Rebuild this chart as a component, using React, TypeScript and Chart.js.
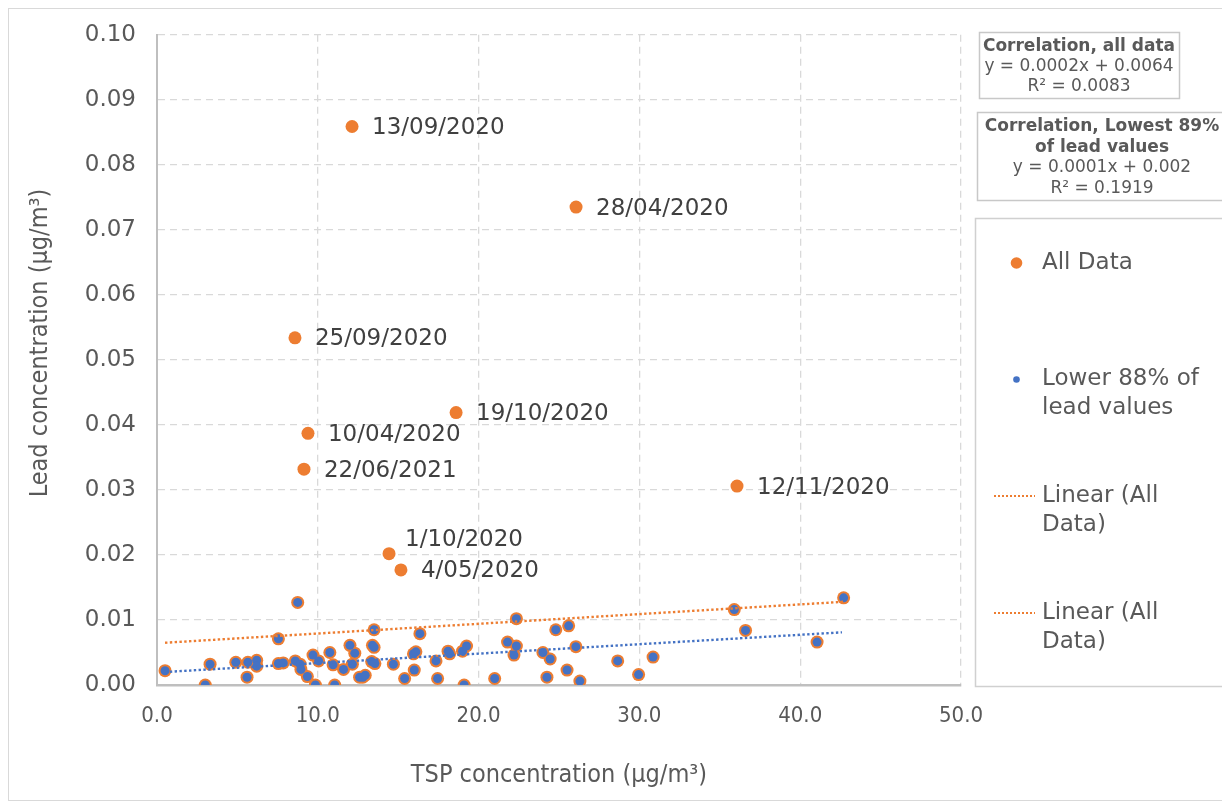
import React, { useEffect, useRef } from 'react';
import { Chart, registerables } from 'chart.js';

Chart.register(...registerables);

// ---- data ----
const lowerX = [0.5, 3.0, 3.3, 4.9, 5.6, 5.65, 6.2, 6.2, 7.55, 8.75, 7.55, 7.85, 8.6, 8.9, 8.95, 9.35, 9.7, 9.85, 10.05, 10.75, 10.95, 11.05, 11.6, 12.0, 12.15, 12.3, 12.6, 13.5, 13.4, 13.5, 12.8, 12.95, 13.35, 13.55, 14.7, 15.4, 15.95, 16.1, 16.0, 16.35, 17.35, 17.45, 18.1, 18.2, 19.0, 19.25, 19.1, 22.35, 21.0, 21.8, 22.35, 22.2, 24.0, 24.45, 24.25, 24.8, 25.6, 25.5, 26.05, 26.3, 28.65, 29.95, 30.85, 35.9, 36.6, 41.05, 42.7];
const lowerY = [0.0022, 0.0, 0.0032, 0.0035, 0.0012, 0.0035, 0.0038, 0.0029, 0.0071, 0.0127, 0.0033, 0.0034, 0.0037, 0.0032, 0.0024, 0.0013, 0.0046, 0.0, 0.0037, 0.005, 0.0031, 0.0, 0.0024, 0.0061, 0.0032, 0.0049, 0.0012, 0.0085, 0.0061, 0.0058, 0.0012, 0.0015, 0.0036, 0.0033, 0.0032, 0.001, 0.0048, 0.0051, 0.0023, 0.0079, 0.0037, 0.001, 0.0052, 0.0048, 0.0052, 0.006, 0.0, 0.0102, 0.001, 0.0066, 0.006, 0.0046, 0.005, 0.004, 0.0012, 0.0085, 0.0091, 0.0023, 0.0059, 0.0006, 0.0037, 0.0016, 0.0043, 0.0116, 0.0084, 0.0066, 0.0134];

const outlierX = [12.13, 26.06, 8.58, 18.6, 9.39, 9.14, 36.07, 14.43, 15.17];
const outlierY = [0.0859, 0.0735, 0.0534, 0.0419, 0.0387, 0.0332, 0.0306, 0.0202, 0.0177];
const outlierLabels = ['13/09/2020', '28/04/2020', '25/09/2020', '19/10/2020', '10/04/2020', '22/06/2021', '12/11/2020', '1/10/2020', '4/05/2020'];

const allTrendX = [0.5, 42.7];
const allTrendY = [0.0065, 0.0128];
const lowTrendX = [0.5, 42.6];
const lowTrendY = [0.002, 0.0081];

const legendLabels = ['All Data', 'Lower 88% of lead values', 'Linear (All Data)', 'Linear (All Data)'];
const box1Lines = ['Correlation, all data', 'y = 0.0002x + 0.0064', 'R² = 0.0083'];
const box2Lines = ['Correlation, Lowest 89%', 'of lead values', 'y = 0.0001x + 0.002', 'R² = 0.1919'];

const xTitle = 'TSP concentration (µg/m³)';
const yTitle = 'Lead concentration (µg/m³)';

// ---- style ----
const ORANGE = '#ED7D31';
const BLUE = '#4472C4';
const TEXT = '#595959';
const SANS = "'DejaVu Sans', Verdana, sans-serif";
const COND = "'DejaVu Sans Condensed', 'Liberation Sans Narrow', 'DejaVu Sans', sans-serif";

function wrap(ctx: CanvasRenderingContext2D, text: string, maxW: number): string[] {
  const words = text.split(' ');
  const lines: string[] = [];
  let cur = '';
  for (const w of words) {
    const t = cur ? cur + ' ' + w : w;
    if (ctx.measureText(t).width > maxW && cur) {
      lines.push(cur);
      cur = w;
    } else cur = t;
  }
  if (cur) lines.push(cur);
  return lines;
}

const decorPlugin = {
  id: 'decor',
  afterDatasetsDraw(chart: any) {
    const ctx: CanvasRenderingContext2D = chart.ctx;
    const meta = chart.getDatasetMeta(3);
    ctx.save();
    ctx.font = `23px ${SANS}`;
    ctx.fillStyle = '#404040';
    ctx.textAlign = 'left';
    ctx.textBaseline = 'middle';
    outlierLabels.forEach((lab, i) => {
      const el = meta.data[i];
      if (!el) return;
      const special = lab === '1/10/2020';
      ctx.fillText(lab, el.x + (special ? 16 : 20), el.y + (special ? -14 : 1.5));
    });
    ctx.restore();
  },
  afterDraw(chart: any) {
    const ctx: CanvasRenderingContext2D = chart.ctx;
    ctx.save();
    // outer frame
    ctx.strokeStyle = '#d9d9d9';
    ctx.lineWidth = 1;
    ctx.strokeRect(8.5, 8.5, 1240, 792);

    // y title
    ctx.save();
    ctx.translate(40, 343);
    ctx.rotate(-Math.PI / 2);
    ctx.font = `25px ${COND}`;
    ctx.fillStyle = TEXT;
    ctx.textAlign = 'center';
    ctx.textBaseline = 'middle';
    ctx.fillText(yTitle, 0, 0);
    ctx.restore();

    // annotation boxes
    ctx.strokeStyle = '#c8c8c8';
    ctx.lineWidth = 1.5;
    ctx.strokeRect(979.5, 32.5, 200, 66);
    ctx.strokeRect(977.5, 112.5, 260, 88);
    ctx.fillStyle = TEXT;
    ctx.textAlign = 'center';
    ctx.textBaseline = 'middle';
    box1Lines.forEach((t, i) => {
      ctx.font = `${i === 0 ? 'bold ' : ''}17px ${SANS}`;
      ctx.fillText(t, 1079, 46.5 + i * 20);
    });
    box2Lines.forEach((t, i) => {
      ctx.font = `${i < 2 ? 'bold ' : ''}17px ${SANS}`;
      ctx.fillText(t, 1102, 127 + i * 20.5);
    });

    // legend box
    ctx.strokeStyle = '#d0d0d0';
    ctx.lineWidth = 1.5;
    ctx.strokeRect(975.5, 218.5, 260, 468);
    ctx.font = `23px ${SANS}`;
    ctx.textAlign = 'left';
    ctx.fillStyle = TEXT;
    const ys = [263, 379.5, 496, 613];
    legendLabels.forEach((lab, i) => {
      const y = ys[i];
      if (i === 0) {
        ctx.fillStyle = ORANGE;
        ctx.beginPath();
        ctx.arc(1016.5, y, 5.8, 0, Math.PI * 2);
        ctx.fill();
      } else if (i === 1) {
        ctx.fillStyle = BLUE;
        ctx.beginPath();
        ctx.arc(1016.5, y, 3.3, 0, Math.PI * 2);
        ctx.fill();
      } else {
        ctx.strokeStyle = ORANGE;
        ctx.lineWidth = 2;
        ctx.setLineDash([2, 2]);
        ctx.beginPath();
        ctx.moveTo(994, y);
        ctx.lineTo(1035, y);
        ctx.stroke();
        ctx.setLineDash([]);
      }
      ctx.fillStyle = TEXT;
      ctx.font = `23px ${SANS}`;
      const lines = wrap(ctx, lab, 168);
      lines.forEach((ln, j) => ctx.fillText(ln, 1042, y + j * 29));
    });
    ctx.restore();
  },
};

export default function App() {
  const ref = useRef<HTMLCanvasElement>(null);
  useEffect(() => {
    const canvas = ref.current;
    if (!canvas) return;
    const lower = lowerX.map((x, i) => ({ x, y: lowerY[i] }));
    const outl = outlierX.map((x, i) => ({ x, y: outlierY[i] }));
    const all = [...outl, ...lower];
    const chart = new Chart(canvas, {
      type: 'scatter',
      data: {
        datasets: [
          {
            label: 'Linear (All Data)',
            data: allTrendX.map((x, i) => ({ x, y: allTrendY[i] })),
            showLine: true,
            borderColor: ORANGE,
            backgroundColor: ORANGE,
            borderWidth: 2.4,
            borderDash: [2.4, 2.4],
            pointRadius: 0,
            fill: false,
          },
          {
            label: 'Linear (Lower 88%)',
            data: lowTrendX.map((x, i) => ({ x, y: lowTrendY[i] })),
            showLine: true,
            borderColor: BLUE,
            backgroundColor: BLUE,
            borderWidth: 2.4,
            borderDash: [2.4, 2.4],
            pointRadius: 0,
            fill: false,
          },
          {
            label: 'Lower 88% of lead values',
            data: lower,
            backgroundColor: BLUE,
            borderWidth: 0,
            pointBorderWidth: 0,
            pointRadius: 4.5,
          },
          {
            label: 'All Data',
            data: all,
            backgroundColor: ORANGE,
            borderWidth: 0,
            pointBorderWidth: 0,
            pointRadius: 6.5,
          },
        ],
      } as any,
      options: {
        animation: false,
        responsive: false,
        maintainAspectRatio: false,
        layout: { padding: { left: 0, right: 261, top: 31, bottom: 0 } },
        plugins: { legend: { display: false }, tooltip: { enabled: false } },
        scales: {
          x: {
            type: 'linear',
            min: 0,
            max: 50,
            ticks: {
              stepSize: 10,
              callback: (v: any) => Number(v).toFixed(1),
              font: { family: COND, size: 22 },
              color: TEXT,
              padding: 18,
            },
            grid: { color: '#d9d9d9', lineWidth: 1.3, drawTicks: false },
            border: { display: true, color: '#bfbfbf', width: 2.5, dash: [7, 5] },
            title: {
              display: true,
              text: xTitle,
              font: { family: COND, size: 25 },
              color: TEXT,
              padding: { top: 0, bottom: 15 },
            },
            afterFit: (s: any) => {
              s.height = 120;
            },
          },
          y: {
            type: 'linear',
            min: 0,
            max: 0.1,
            ticks: {
              stepSize: 0.01,
              callback: (v: any) => Number(v).toFixed(2),
              font: { family: SANS, size: 23 },
              color: TEXT,
              padding: 21,
            },
            grid: { color: '#d9d9d9', lineWidth: 1.3, drawTicks: false },
            border: { display: true, color: '#bfbfbf', width: 2, dash: [7, 5] },
            afterFit: (s: any) => {
              s.width = 157;
            },
          },
        },
      } as any,
      plugins: [decorPlugin],
    });
    return () => chart.destroy();
  }, []);

  return (
    <div style={{ position: 'fixed', left: 0, top: 0, width: 1222, height: 805, background: '#fff' }}>
      <canvas ref={ref} width={1222} height={805} style={{ display: 'block', width: 1222, height: 805 }} />
    </div>
  );
}
